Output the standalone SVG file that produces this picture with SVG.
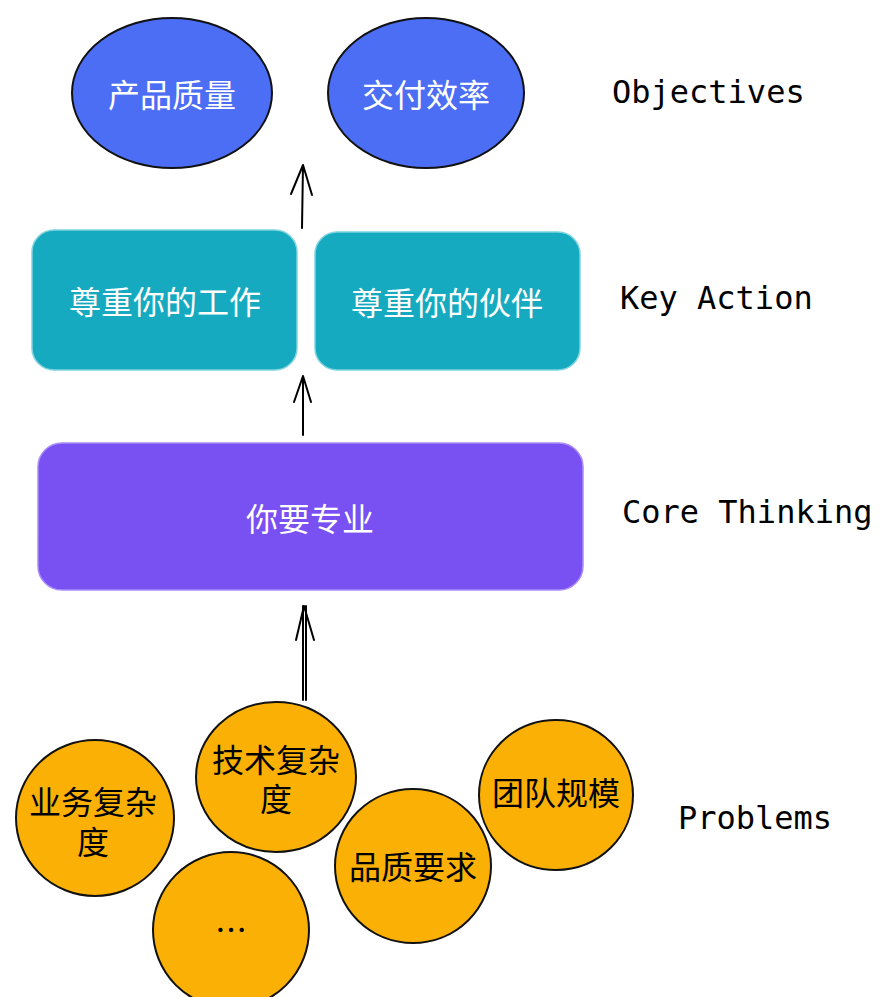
<svg xmlns="http://www.w3.org/2000/svg" width="889" height="997" viewBox="0 0 889 997">
<style>
.cjk{font-family:"Noto Sans CJK SC","Noto Sans",sans-serif;font-size:32px;text-anchor:middle;dominant-baseline:central}
.w{fill:#ffffff}
.k{fill:#000000}
.lbl{font-family:"DejaVu Sans Mono","Liberation Mono",monospace;font-size:32px;fill:#000;dominant-baseline:central}
.obj{fill:#4c6ef5;stroke:#111;stroke-width:2}
.act{fill:#15aabf;stroke:#7fd4df;stroke-width:1.5}
.core{fill:#7950f2;stroke:#a98cf7;stroke-width:1.5}
.prob{fill:#fab005;stroke:#111;stroke-width:2}
.conn{fill:none;stroke:#000;stroke-width:2;stroke-linecap:round;stroke-linejoin:round}
</style>
<rect width="889" height="997" fill="#ffffff"/>
<g id="obj-quality">
<ellipse class="obj" cx="172" cy="93" rx="100" ry="75"/>
<text class="cjk w" x="172" y="93">产品质量</text>
</g>
<g id="obj-efficiency">
<ellipse class="obj" cx="426" cy="93" rx="98" ry="75"/>
<text class="cjk w" x="426" y="93">交付效率</text>
</g>
<g id="act-work">
<rect class="act" x="32" y="230" width="265" height="140" rx="22"/>
<text class="cjk w" x="165" y="300">尊重你的工作</text>
</g>
<g id="act-partner">
<rect class="act" x="315" y="232" width="265" height="138" rx="22"/>
<text class="cjk w" x="447" y="301">尊重你的伙伴</text>
</g>
<g id="core">
<rect class="core" x="38" y="443" width="545" height="147" rx="24"/>
<text class="cjk w" x="310" y="517">你要专业</text>
</g>
<g id="p-business">
<ellipse class="prob" cx="95" cy="818" rx="79" ry="78"/>
<text class="cjk k" x="93" y="800">业务复杂<tspan x="93" dy="40">度</tspan></text>
</g>
<g id="p-tech">
<ellipse class="prob" cx="276" cy="777" rx="80" ry="75"/>
<text class="cjk k" x="276" y="758">技术复杂<tspan x="276" dy="39">度</tspan></text>
</g>
<g id="p-quality">
<ellipse class="prob" cx="413" cy="866" rx="78" ry="77"/>
<text class="cjk k" x="413" y="865">品质要求</text>
</g>
<g id="p-team">
<ellipse class="prob" cx="556" cy="795" rx="77" ry="75"/>
<text class="cjk k" x="556" y="791">团队规模</text>
</g>
<g id="p-more">
<ellipse class="prob" cx="231" cy="930" rx="78" ry="78"/>
<text class="cjk k" x="231" y="928">…</text>
</g>
<g id="labels">
<text class="lbl" x="612" y="92">Objectives</text>
<text class="lbl" x="620" y="298">Key Action</text>
<text class="lbl" x="622" y="512">Core Thinking</text>
<text class="lbl" x="678" y="818">Problems</text>
</g>
<g id="connectors">
<path class="conn" d="M302 228 L303 165 M291 194 L303 165 L312 195"/>
<path class="conn" d="M303 435 L303 376 M294 402 L303 376 L311 402"/>
<path class="conn" d="M303 700 L303 606 M306 700 L306 606 M296 640 L304 606 L314 640"/>
</g>
</svg>
